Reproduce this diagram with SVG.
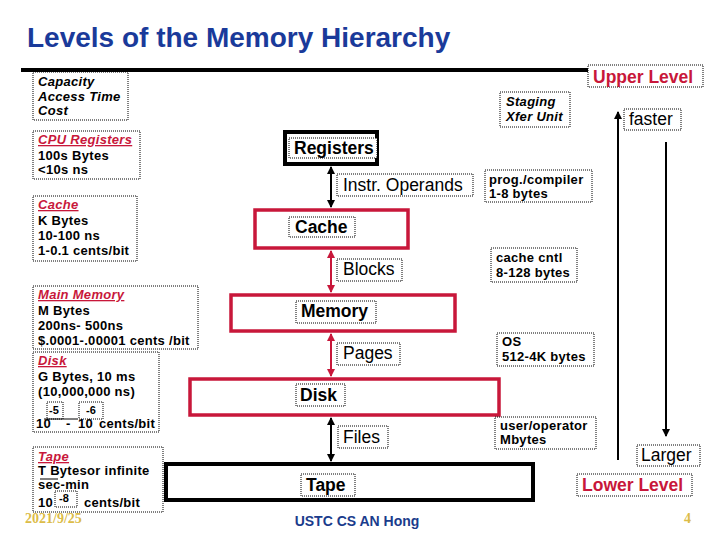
<svg xmlns="http://www.w3.org/2000/svg" width="720" height="540" viewBox="0 0 720 540">
<defs>
<style>
.t{font-family:"Liberation Sans",Arial,sans-serif;}
.sm{font-family:"Liberation Sans",Arial,sans-serif;font-size:13px;letter-spacing:0.3px;font-weight:bold;fill:#000;}
.sup{font-family:"Liberation Sans",Arial,sans-serif;font-size:11px;font-weight:bold;fill:#000;}
.it{font-style:italic;}
.lvl{font-family:"Liberation Sans",Arial,sans-serif;font-size:17.5px;font-weight:bold;fill:#000;}
.lab{font-family:"Liberation Sans",Arial,sans-serif;font-size:17.5px;fill:#000;}
.red{fill:#c8173a;}
.ul{text-decoration:underline;}
.dot{fill:#fff;stroke:#000;stroke-width:1;stroke-dasharray:1 1;}
.dotn{fill:none;stroke:#000;stroke-width:1;stroke-dasharray:1 1;}
.rbox{fill:#fff;stroke:#c8173a;stroke-width:3.5;}
.kbox{fill:#fff;stroke:#000;stroke-width:4;}
</style>
<marker id="ak" viewBox="0 0 8 8" refX="7" refY="4" markerWidth="8" markerHeight="8" markerUnits="userSpaceOnUse" orient="auto-start-reverse"><path d="M0,0 L8,4 L0,8 z" fill="#000"/></marker>
<marker id="ar" viewBox="0 0 8 8" refX="7" refY="4" markerWidth="8" markerHeight="8" markerUnits="userSpaceOnUse" orient="auto-start-reverse"><path d="M0,0 L8,4 L0,8 z" fill="#c8173a"/></marker>
</defs>
<rect width="720" height="540" fill="#fff"/>

<text class="t" x="27" y="47" font-size="28" font-weight="bold" fill="#1a3a9a">Levels of the Memory Hierarchy</text>
<line x1="21" y1="70" x2="590" y2="70" stroke="#000" stroke-width="4"/>

<!-- left column -->
<g id="legend">
<rect class="dot" x="33" y="72" width="95" height="48"/>
<text class="sm it" x="38" y="86">Capacity</text>
<text class="sm it" x="38" y="101">Access Time</text>
<text class="sm it" x="38" y="115">Cost</text>
</g>
<g id="cpu-info">
<rect class="dot" x="33" y="131" width="107" height="48"/>
<text class="sm it red ul" x="38" y="144">CPU Registers</text>
<text class="sm" x="38" y="160">100s Bytes</text>
<text class="sm" x="38" y="174">&lt;10s ns</text>
</g>
<g id="cache-info">
<rect class="dot" x="33" y="196" width="104" height="65"/>
<text class="sm it red ul" x="38" y="209">Cache</text>
<text class="sm" x="38" y="225">K Bytes</text>
<text class="sm" x="38" y="240">10-100 ns</text>
<text class="sm" x="38" y="255">1-0.1 cents/bit</text>
</g>
<g id="mem-info">
<rect class="dot" x="33" y="286" width="165" height="63"/>
<text class="sm it red ul" x="38" y="299">Main Memory</text>
<text class="sm" x="38" y="315">M Bytes</text>
<text class="sm" x="38" y="330">200ns- 500ns</text>
<text class="sm" x="38" y="345">$.0001-.00001 cents /bit</text>
</g>
<g id="disk-info">
<rect class="dot" x="33" y="352" width="126" height="80"/>
<text class="sm it red ul" x="38" y="365">Disk</text>
<text class="sm" x="38" y="381">G Bytes, 10 ms</text>
<text class="sm" x="38" y="396">(10,000,000 ns)</text>
<text class="sm" x="36" y="428">10</text>
<text class="sm" x="66" y="428">-</text>
<text class="sm" x="78" y="428">10</text>
<text class="sm" x="99" y="428">cents/bit</text>
<rect class="dotn" x="47" y="402" width="16" height="17"/>
<text class="sup" x="49" y="414">-5</text>
<rect class="dotn" x="79" y="402" width="24" height="17"/>
<text class="sup" x="86" y="414">-6</text>
<line x1="44" y1="419" x2="78" y2="419" stroke="#000" stroke-width="1"/>
</g>
<g id="tape-info">
<rect class="dot" x="33" y="447" width="130" height="65"/>
<text class="sm it red ul" x="38" y="461">Tape</text>
<text class="sm" x="38" y="475">T Bytesor infinite</text>
<text class="sm" x="38" y="489">sec-min</text>
<text class="sm" x="38" y="507">10</text>
<text class="sm" x="84" y="507">cents/bit</text>
<line x1="40" y1="479" x2="58" y2="479" stroke="#000" stroke-width="1"/>
<rect class="dotn" x="55" y="491" width="22" height="16"/>
<text class="sup" x="59" y="502">-8</text>
</g>

<!-- center levels -->
<g id="registers">
<rect class="kbox" x="285" y="132" width="92" height="32"/>
<rect class="dot" x="289" y="138" width="88" height="20"/>
<text class="lvl" x="294" y="154">Registers</text>
</g>
<g id="cache">
<rect class="rbox" x="255" y="210" width="153" height="38"/>
<rect class="dot" x="289" y="217" width="66" height="20"/>
<text class="lvl" x="295" y="233">Cache</text>
</g>
<g id="memory">
<rect class="rbox" x="231" y="295" width="224" height="36"/>
<rect class="dot" x="296" y="301" width="80" height="22"/>
<text class="lvl" x="301" y="317">Memory</text>
</g>
<g id="disk">
<rect class="rbox" x="190" y="379" width="309" height="36"/>
<rect class="dot" x="296" y="384" width="49" height="22"/>
<text class="lvl" x="300" y="401">Disk</text>
</g>
<g id="tape">
<rect class="kbox" x="166" y="464" width="367" height="36"/>
<rect class="dot" x="301" y="474" width="54" height="22"/>
<text class="lvl" x="306" y="491">Tape</text>
</g>

<g id="connectors">
<line x1="331" y1="167" x2="331" y2="207" stroke="#000" stroke-width="2" marker-start="url(#ak)" marker-end="url(#ak)"/>
<line x1="331" y1="251" x2="331" y2="292" stroke="#c8173a" stroke-width="2" marker-start="url(#ar)" marker-end="url(#ar)"/>
<line x1="331" y1="334" x2="331" y2="376" stroke="#c8173a" stroke-width="2" marker-start="url(#ar)" marker-end="url(#ar)"/>
<line x1="331" y1="418" x2="331" y2="461" stroke="#000" stroke-width="2" marker-start="url(#ak)" marker-end="url(#ak)"/>
<line x1="618" y1="460" x2="618" y2="112" stroke="#000" stroke-width="2" marker-end="url(#ak)"/>
<line x1="666" y1="142" x2="666" y2="436" stroke="#000" stroke-width="2" marker-end="url(#ak)"/>
</g>

<!-- transfer labels -->
<g id="lbl-instr">
<rect class="dot" x="337" y="174" width="136" height="22"/>
<text class="lab" x="343" y="191">Instr. Operands</text>
</g>
<g id="lbl-blocks">
<rect class="dot" x="337" y="259" width="65" height="22"/>
<text class="lab" x="343" y="275">Blocks</text>
</g>
<g id="lbl-pages">
<rect class="dot" x="337" y="343" width="63" height="22"/>
<text class="lab" x="343" y="359">Pages</text>
</g>
<g id="lbl-files">
<rect class="dot" x="338" y="426" width="50" height="22"/>
<text class="lab" x="343" y="443">Files</text>
</g>

<!-- right column -->
<g id="upper-level">
<rect class="dot" x="588" y="65" width="115" height="22"/>
<text class="lvl red" x="593" y="83" font-size="18">Upper Level</text>
</g>
<g id="staging">
<rect class="dot" x="500" y="92" width="70" height="35"/>
<text class="sm it" x="506" y="106">Staging</text>
<text class="sm it" x="506" y="121">Xfer Unit</text>
</g>
<g id="faster">
<rect class="dot" x="624" y="109" width="57" height="21"/>
<text class="lab" x="629" y="125">faster</text>
</g>
<g id="prog">
<rect class="dot" x="485" y="170" width="107" height="32"/>
<text class="sm" x="489" y="184">prog./compiler</text>
<text class="sm" x="489" y="198">1-8 bytes</text>
</g>
<g id="cachecntl">
<rect class="dot" x="491" y="248" width="86" height="34"/>
<text class="sm" x="496" y="262">cache cntl</text>
<text class="sm" x="496" y="277">8-128 bytes</text>
</g>
<g id="os">
<rect class="dot" x="497" y="333" width="97" height="33"/>
<text class="sm" x="502" y="346">OS</text>
<text class="sm" x="502" y="361">512-4K bytes</text>
</g>
<g id="user">
<rect class="dot" x="495" y="417" width="101" height="32"/>
<text class="sm" x="500" y="430">user/operator</text>
<text class="sm" x="500" y="444">Mbytes</text>
</g>
<g id="larger">
<rect class="dot" x="637" y="445" width="63" height="21"/>
<text class="lab" x="641" y="461" font-size="18">Larger</text>
</g>
<g id="lower-level">
<rect class="dot" x="577" y="474" width="115" height="22"/>
<text class="lvl red" x="582" y="491">Lower Level</text>
</g>

<text x="25" y="523" font-family="'Liberation Serif','Times New Roman',serif" font-size="14" font-weight="bold" fill="#dcbc48">2021/9/25</text>
<text x="357" y="526" text-anchor="middle" class="t" font-size="14" font-weight="bold" fill="#1a3c8c">USTC CS AN Hong</text>
<text x="684" y="523" font-family="'Liberation Serif','Times New Roman',serif" font-size="14" font-weight="bold" fill="#dcbc48">4</text>
</svg>
